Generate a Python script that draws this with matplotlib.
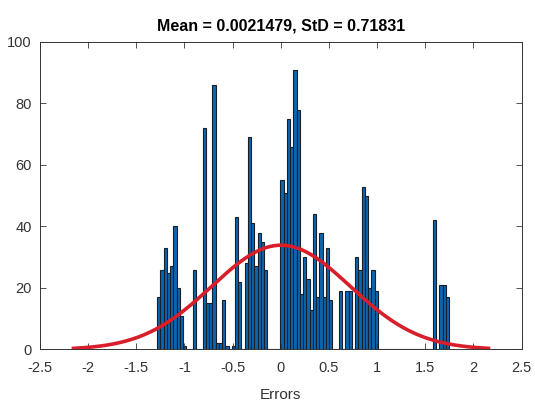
import numpy as np
import matplotlib
matplotlib.use('Agg')
import matplotlib.pyplot as plt

plt.rcParams['font.family'] = ['Liberation Sans', 'DejaVu Sans']
plt.rcParams['axes.unicode_minus'] = False

# Histogram of errors (bin counts)
bin_start = -1.284
bin_width = 0.0337
counts = [17, 26, 33, 25, 27, 40, 20, 11, 1, 0,
          0, 26, 0, 0, 72, 15, 15, 86, 2, 2,
          16, 1, 0, 1, 43, 22, 0, 28, 69, 41,
          27, 38, 35, 26, 0, 0, 0, 0, 55, 51,
          75, 66, 91, 78, 18, 30, 23, 13, 44, 17,
          38, 17, 33, 16, 0, 0, 19, 0, 19, 19,
          0, 30, 26, 53, 50, 20, 26, 19, 0, 0,
          0, 0, 0, 0, 0, 0, 0, 0, 0, 0,
          0, 0, 0, 0, 0, 42, 0, 21, 21, 17]

mu = 0.0021479
sigma = 0.71831

x_ticks = [-2.5, -2, -1.5, -1, -0.5, 0, 0.5, 1, 1.5, 2, 2.5]
x_tick_labels = ['-2.5', '-2', '-1.5', '-1', '-0.5', '0', '0.5', '1', '1.5', '2', '2.5']
y_ticks = [0, 20, 40, 60, 80, 100]

BAR_COLOR = '#0b66b0'
EDGE_COLOR = '#16202c'
FIT_COLOR = '#d81e2a'
AX_COLOR = '#333333'

fig = plt.figure(figsize=(5.35, 4.03), dpi=100)
ax = fig.add_axes([0.0748, 0.1328, 0.9, 0.763])

counts = np.array(counts)
edges = bin_start + bin_width * np.arange(len(counts))
ax.bar(edges, counts, width=bin_width, align='edge', color=BAR_COLOR,
       edgecolor=EDGE_COLOR, linewidth=0.8)

# Normal fit scaled to the histogram area
xs = np.linspace(mu - 3 * sigma, mu + 3 * sigma, 200)
area = counts.sum() * bin_width
ys = area / (sigma * np.sqrt(2 * np.pi)) * np.exp(-0.5 * ((xs - mu) / sigma) ** 2)
ax.plot(xs, ys, color=FIT_COLOR, linewidth=2.6)

ax.set_xlim(-2.5, 2.5)
ax.set_ylim(0, 100)
ax.set_xticks(x_ticks)
ax.set_xticklabels(x_tick_labels)
ax.set_yticks(y_ticks)
ax.tick_params(direction='in', top=True, right=True, length=4, width=0.6,
               colors=AX_COLOR, labelsize=10.5)
ax.tick_params(axis='x', pad=8)
ax.tick_params(axis='y', pad=6)
for s in ax.spines.values():
    s.set_color(AX_COLOR)
    s.set_linewidth(0.7)

ax.set_xlabel('Errors', fontsize=11, color=AX_COLOR, labelpad=10)
ax.set_title(f'Mean = {mu}, StD = {sigma}', fontsize=11.5, fontweight='bold',
             color='black', pad=8)

fig.savefig('out.png', dpi=100)
